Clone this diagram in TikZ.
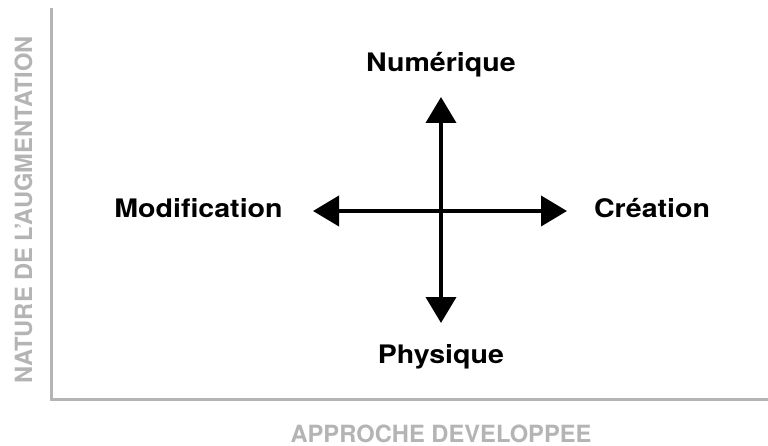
\documentclass[tikz,border=0pt]{standalone}
\usepackage{fontspec}
\setmainfont{TeX Gyre Heros}
\newfontfamily\widefont[FakeStretch=1.12]{TeX Gyre Heros}
\usepackage{tikz}
\usetikzlibrary{arrows.meta}

\definecolor{axisgray}{RGB}{180,180,180}

\begin{document}
\begin{tikzpicture}[x=1pt,y=-1pt,
  pole/.style={anchor=base,font=\widefont\bfseries\fontsize{25.5}{30}\selectfont},
  axislabel/.style={anchor=base,inner sep=0pt,text=axisgray,font=\bfseries\fontsize{23.7}{28}\selectfont},
  biarrow/.style={line width=4pt,{Triangle[length=26pt,width=30pt]}-{Triangle[length=26pt,width=30pt]}}]
\useasboundingbox (0,0) rectangle (768,446);
% axes
\coordinate (top) at (51,8);
\coordinate (orig) at (51,399);
\coordinate (right) at (768,399);
\draw[axisgray,line width=3pt] (top) -- (orig) -- (right);
\node[axislabel,rotate=90] (nat) at (32,210) {NATURE DE L’AUGMENTATION};
\node[axislabel] (app) at (441,442) {APPROCHE DEVELOPPEE};
% poles
\node[pole] (num) at (441,72) {Numérique};
\node[pole] (phy) at (441,363) {Physique};
\node[pole] (mod) at (198.5,218) {Modification};
\node[pole] (cre) at (652,218) {Création};
\coordinate (n) at (441,97);
\coordinate (s) at (441,323);
\coordinate (w) at (313,211);
\coordinate (e) at (567,211);
\foreach \from/\to in {w/e,n/s}
\draw[biarrow] (\from) -- (\to);
\end{tikzpicture}
\end{document}
